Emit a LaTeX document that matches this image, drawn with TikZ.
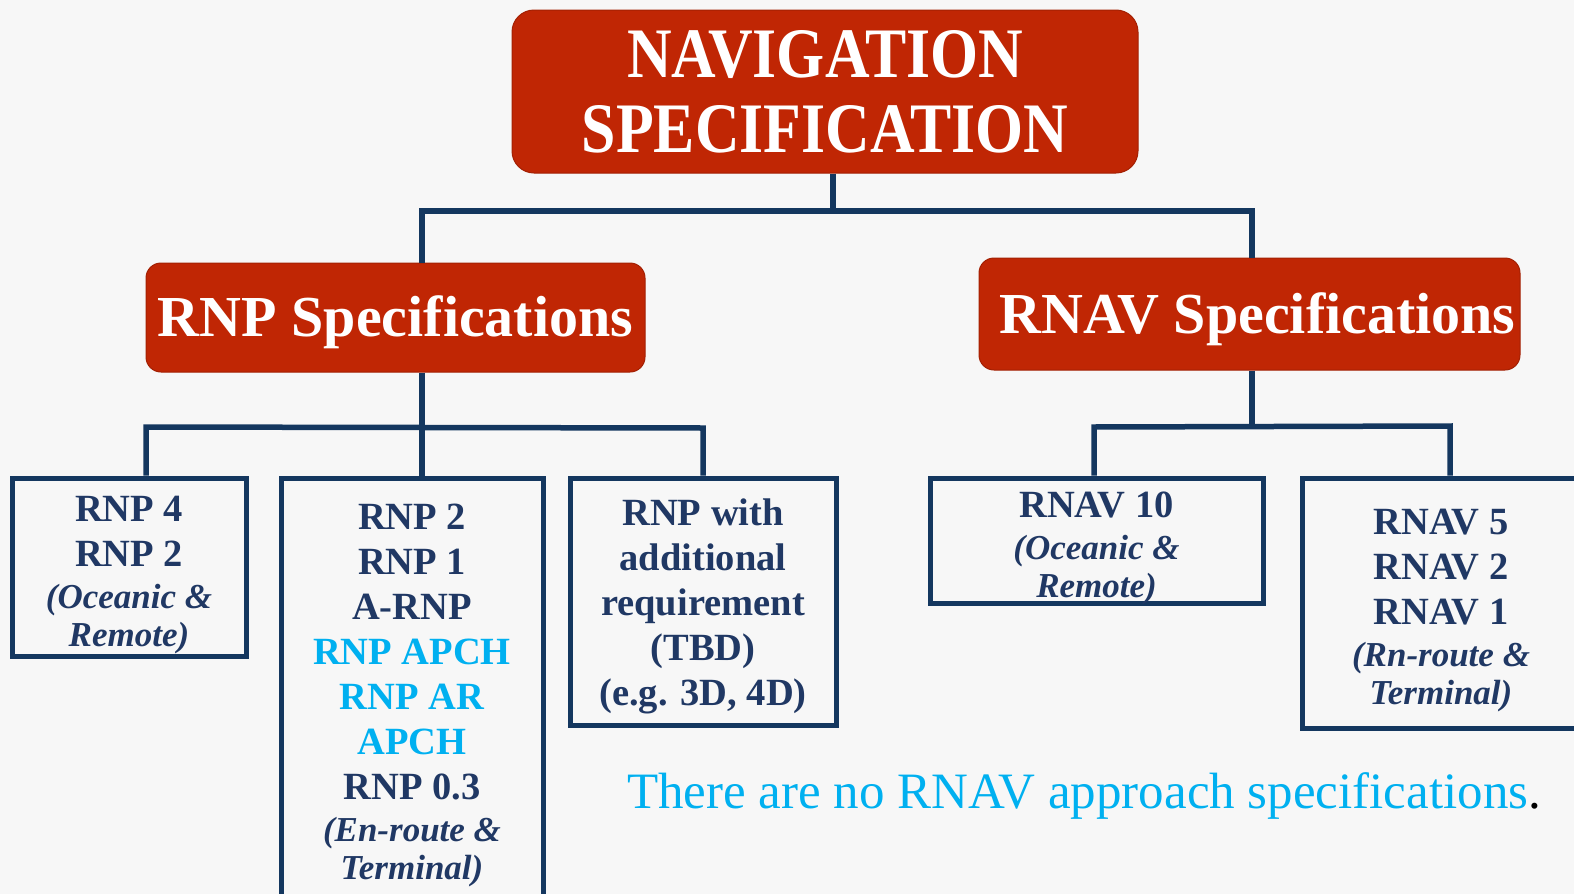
\documentclass[tikz,border=0pt]{standalone}
\usepackage{fontspec}
\setmainfont{Liberation Serif}
\newfontfamily\headfont{Liberation Serif}[FakeStretch=0.87]

\definecolor{specred}{RGB}{192,38,4}
\definecolor{linenavy}{RGB}{20,55,95}
\definecolor{textnavy}{RGB}{32,56,100}
\definecolor{apchcyan}{RGB}{0,176,240}
\definecolor{paper}{RGB}{247,247,247}

\newcommand\areanote[1]{{\fontsize{35}{38}\selectfont\itshape #1}}
\newcommand\apch[1]{\textcolor{apchcyan}{#1}}

\tikzset{
  headbox/.style={fill=specred, draw=specred!85!black, line width=1pt,
    rounded corners=22pt, text=white, align=center,
    font=\headfont\bfseries\fontsize{71}{75}\selectfont},
  groupbox/.style={fill=specred, draw=specred!85!black, line width=1pt,
    rounded corners=15pt},
  grouptext/.style={text=white, inner sep=0pt,
    text height=38.4pt, text depth=0pt,
    font=\bfseries\fontsize{58}{62}\selectfont},
  leafbox/.style={draw=linenavy, line width=5pt, fill=none},
  leaftext/.style={text=textnavy, align=center, inner sep=0pt,
    font=\bfseries\fontsize{38.5}{45}\selectfont},
  conn/.style={draw=linenavy, line width=5.5pt, line join=miter}
}

\begin{document}
\begin{tikzpicture}[x=1pt,y=-1pt]
  \useasboundingbox (0,0) rectangle (1574,894);
  \clip (0,0) rectangle (1574,894);
  \fill[paper] (0,0) rectangle (1574,894);

  % top level
  \node[headbox, minimum width=626pt, minimum height=163pt] (nav) at (825,91.5)
    {NAVIGATION\\SPECIFICATION};

  % second level
  \node[groupbox, minimum width=499pt, minimum height=109pt,
    label={[grouptext]center:{RNP Specifications}}] (rnp) at (395.5,317.5) {};
  \node[groupbox, minimum width=541pt, minimum height=112pt,
    label={[grouptext, xshift=8pt]center:{RNAV Specifications}}] (rnav) at (1249.5,314) {};

  % RNP leaves
  \node[leafbox, minimum width=234pt, minimum height=178pt,
    label={[leaftext, yshift=-8pt]center:{RNP 4\\RNP 2\\[-3pt]\areanote{(Oceanic \&}\\[-7pt]\areanote{Remote)}}}]
    (rnp4) at (129,567) {};
  \node[leafbox, minimum width=262pt, minimum height=422pt,
    label={[leaftext, yshift=-6pt]center:{RNP 2\\RNP 1\\A-RNP\\\apch{RNP APCH}\\\apch{RNP AR}\\\apch{APCH}\\RNP 0.3\\[-3pt]\areanote{(En-route \&}\\[-7pt]\areanote{Terminal)}}}]
    (rnp2) at (412,689) {};
  \node[leafbox, minimum width=266pt, minimum height=247pt,
    label={[leaftext, yshift=-5pt]center:{RNP with\\additional\\requirement\\(TBD)\\(e.g. 3D, 4D)}}]
    (rnpx) at (703,601.5) {};

  % RNAV leaves
  \node[leafbox, minimum width=333pt, minimum height=125pt,
    label={[leaftext, yshift=-8pt]center:{RNAV 10\\[-3pt]\areanote{(Oceanic \&}\\[-7pt]\areanote{Remote)}}}]
    (rnav10) at (1096.5,540.5) {};
  \node[leafbox, minimum width=278pt, minimum height=250pt,
    label={[leaftext, yshift=-8pt]center:{RNAV 5\\RNAV 2\\RNAV 1\\[-3pt]\areanote{(Rn-route \&}\\[-7pt]\areanote{Terminal)}}}]
    (rnav5) at (1441,603) {};

  % junction points of the tree
  \coordinate (j0) at (833,211);
  \coordinate (jl) at (422,211);
  \coordinate (jr) at (1252,211);
  \coordinate (k1) at (146,427);
  \coordinate (k2) at (422,427);
  \coordinate (k3) at (703,428);
  \coordinate (m0) at (1252,426);
  \coordinate (m1) at (1094,427);
  \coordinate (m2) at (1450,426);

  % connectors
  \draw[conn] (nav.south -| j0) -- (j0);
  \draw[conn] (rnp.north -| jl) -- (jl) -- (jr) -- (rnav.north -| jr);

  \draw[conn] (rnp.south -| k2) -- (k2) -- (rnp2.north -| k2);
  \draw[conn] (rnp4.north -| k1) -- (k1) -- (k3) -- (rnpx.north -| k3);

  \draw[conn] (rnav.south -| m0) -- (m0);
  \draw[conn] (rnav10.north -| m1) -- (m1) -- (m2) -- (rnav5.north -| m2);

  % remark
  \node[anchor=base west, inner sep=0pt, font=\fontsize{51}{56}\selectfont] (remark) at (627,808)
    {\textcolor{apchcyan}{There are no RNAV approach specifications}.};
\end{tikzpicture}
\end{document}
